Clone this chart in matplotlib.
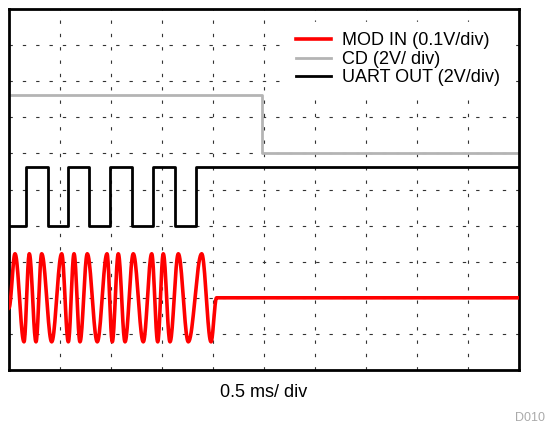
import numpy as np
import matplotlib
matplotlib.use("Agg")
import matplotlib.pyplot as plt

plt.rcParams['font.family'] = ['Liberation Sans', 'DejaVu Sans']

# all positions in scope divisions (10 x 10 grid)
# CD trace: high until it drops
cd_t = [0.0, 4.955, 4.955, 10.0]
cd_v = [7.62, 7.62, 6.0, 6.0]

# UART OUT edges (times where level toggles), starts low
uart_edges = [0.327, 0.759, 1.163, 1.575, 1.98, 2.418, 2.829, 3.255, 3.667]
uart_low = 4.0
uart_high = 5.63

mod_t = [0.0, 0.118, 0.294, 0.398, 0.529, 0.641, 0.837, 1.033, 1.163, 1.275,
         1.392, 1.535, 1.731, 1.922, 2.025, 2.143, 2.275, 2.437, 2.633, 2.798,
         2.916, 3.025, 3.157, 3.320, 3.516, 3.778, 3.961, 4.07, 10.0]
mod_v = [1.72, 3.22, 0.78, 3.22, 0.78, 3.22, 0.78, 3.22, 0.78, 3.22,
         0.78, 3.22, 0.78, 3.22, 0.78, 3.22, 0.78, 3.22, 0.78, 3.22,
         0.78, 3.22, 0.78, 3.22, 0.78, 3.22, 0.78, 2.0, 2.0]

# build uart step trace
ux = [0.0]
uy = [uart_low]
level = uart_low
for e in uart_edges:
    ux.append(e)
    uy.append(level)
    level = uart_high if level == uart_low else uart_low
    ux.append(e)
    uy.append(level)
ux.append(10.0)
uy.append(level)

# smooth the modulated signal between the read extremes
mx, my = [], []
for i in range(len(mod_t) - 1):
    s = np.linspace(0, 1, 20)
    a, b = mod_v[i], mod_v[i + 1]
    mx.extend(mod_t[i] + (mod_t[i + 1] - mod_t[i]) * s)
    my.extend(a + (b - a) * (1 - np.cos(np.pi * s)) / 2)

fig = plt.figure(figsize=(5.48, 4.26), dpi=100)
ax = fig.add_axes([9 / 548, 1 - 370 / 426, 510 / 548, 361 / 426])

ax.plot(mx, my, color='#ff0000', lw=2.6, label='MOD IN (0.1V/div)', zorder=3)
ax.plot(cd_t, cd_v, color='#b4b4b4', lw=2.0, label='CD (2V/ div)', zorder=2)
ax.plot(ux, uy, color='black', lw=2.0, label='UART OUT (2V/div)', zorder=4)

ax.set_xlim(0, 10)
ax.set_ylim(0, 10)
ax.set_xticks(np.arange(1, 10))
ax.set_yticks(np.arange(1, 10))
ax.tick_params(length=0, labelbottom=False, labelleft=False)
ax.grid(True, color='#333333', lw=0.8, linestyle=(0, (3, 9)))
for sp in ax.spines.values():
    sp.set_linewidth(2.0)

ax.set_xlabel('0.5 ms/ div', fontsize=13, labelpad=10)

# legend sits on a white patch that hides the grid behind it
leg = ax.legend(loc='upper left', bbox_to_anchor=(0.5416, 0.965), frameon=True,
                fancybox=False, fontsize=13, borderpad=0.6, borderaxespad=0,
                handlelength=1.95, handletextpad=0.6, labelspacing=0.08)
leg.get_frame().set_facecolor('white')
leg.get_frame().set_edgecolor('white')
leg.get_frame().set_alpha(1)

fig.text(545 / 548, 1 - 424 / 426, 'D010', color='#aaaaaa', fontsize=9,
         ha='right', va='bottom')

fig.savefig('out.png', dpi=100)
